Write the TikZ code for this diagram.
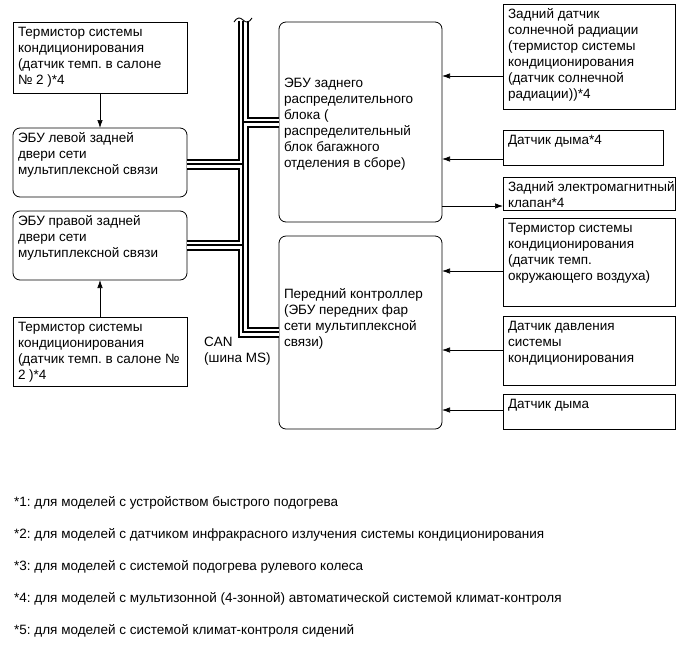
\documentclass[tikz,border=0pt]{standalone}
\usepackage{fontspec}
\setmainfont{Liberation Sans}
\usetikzlibrary{arrows.meta}
\frenchspacing
\newcommand{\fs}{\fontsize{13.5}{16}\selectfont}
% box text: width, height, vertical position (t/c), rows
\newcommand{\bxt}[4]{\parbox[c][\dimexpr#2pt-6pt\relax][#3]{\dimexpr#1pt-10pt\relax}{\begin{tabular}[t]{@{}l@{}}#4\end{tabular}}}
\begin{document}
\begin{tikzpicture}[x=1pt,y=-1pt,
  box/.style={draw, line width=0.8pt, anchor=north west, inner xsep=5pt, inner ysep=3pt, outer sep=0pt, font=\fs},
  rbox/.style={box, rounded corners=7pt},
  arr/.style={line width=0.7pt, -{Latex[length=8pt,width=5.5pt]}},
  fn/.style={anchor=west, inner sep=0pt, font=\fs},
  busa/.style={line width=11pt, black, line join=miter},
  busb/.style={line width=7pt, white, line join=miter},
  busc/.style={line width=1.1pt, black, line join=miter}]
\useasboundingbox (0,0) rectangle (687,662);

% left column
\node[box]  (A) at (13,22)  {\bxt{174}{71}{t}{Термистор системы\\кондиционирования\\(датчик темп. в салоне\\№ 2 )*4}};
\node[rbox] (B) at (13,128) {\bxt{174}{69}{t}{ЭБУ левой задней\\двери сети\\мультиплексной связи}};
\node[rbox] (C) at (13,211) {\bxt{174}{69}{t}{ЭБУ правой задней\\двери сети\\мультиплексной связи}};
\node[box]  (D) at (13,317) {\bxt{174}{69}{t}{Термистор системы\\кондиционирования\\(датчик темп. в салоне №\\2 )*4}};

% middle column
\node[rbox] (E) at (279,22)  {\bxt{163}{200}{t}{\rule{0pt}{46pt}\\ЭБУ заднего\\распределительного\\блока (\\распределительный\\блок багажного\\отделения в сборе)}};
\node[rbox] (F) at (279,236) {\bxt{163}{193}{t}{\rule{0pt}{43pt}\\Передний контроллер\\(ЭБУ передних фар\\сети мультиплексной\\связи)}};

% right column
\node[box] (G) at (503,4)   {\bxt{172}{105}{t}{Задний датчик\\солнечной радиации\\(термистор системы\\кондиционирования\\(датчик солнечной\\радиации))*4}};
\node[box] (H) at (503,130) {\bxt{160}{35}{t}{Датчик дыма*4}};
\node[box] (I) at (503,177) {\bxt{172}{33}{t}{Задний электромагнитный\\клапан*4}};
\node[box] (J) at (503,218) {\bxt{172}{88}{t}{Термистор системы\\кондиционирования\\(датчик темп.\\окружающего воздуха)}};
\node[box] (K) at (503,316) {\bxt{172}{69}{t}{Датчик давления\\системы\\кондиционирования}};
\node[box] (L) at (503,394) {\bxt{172}{35}{t}{Датчик дыма}};

% arrows
\draw[arr] (A.south) -- (B.north);
\draw[arr] (D.north) -- (C.south);
\draw[arr] (G.west |- 0,76)  -- (E.east |- 0,76);
\draw[arr] (H.west |- 0,159) -- (E.east |- 0,159);
\draw[arr] (E.east |- 0,206) -- (I.west |- 0,206);
\draw[arr] (J.west |- 0,271) -- (F.east |- 0,271);
\draw[arr] (K.west |- 0,350) -- (F.east |- 0,350);
\draw[arr] (L.west |- 0,410) -- (F.east |- 0,410);

% CAN bus
\coordinate (bt) at (243,21);
\coordinate (bb) at (243,332);
\def\buspath{(bt) -- (bb) -- (F.west |- bb)
  (243,122) -- (E.west |- 0,122)
  (243,164) -- (B.east |- 0,164)
  (243,245) -- (C.east |- 0,245)}
\draw[busa] \buspath;
\draw[busb] \buspath;
\draw[busc] \buspath;
\draw[line width=0.9pt] (234,22) .. controls (237,17) and (240,17) .. (243,20) .. controls (246,23) and (249,23) .. (252,18);

\node[anchor=north west, inner sep=0pt, font=\fs, align=left] (can) at (204,337) {CAN\\(шина MS)};

% footnotes
\node[fn] (f1) at (14,503) {*1: для моделей с устройством быстрого подогрева};
\node[fn] (f2) at (14,535) {*2: для моделей с датчиком инфракрасного излучения системы кондиционирования};
\node[fn] (f3) at (14,567) {*3: для моделей с системой подогрева рулевого колеса};
\node[fn] (f4) at (14,599) {*4: для моделей с мультизонной (4-зонной) автоматической системой климат-контроля};
\node[fn] (f5) at (14,631) {*5: для моделей с системой климат-контроля сидений};
\end{tikzpicture}
\end{document}
